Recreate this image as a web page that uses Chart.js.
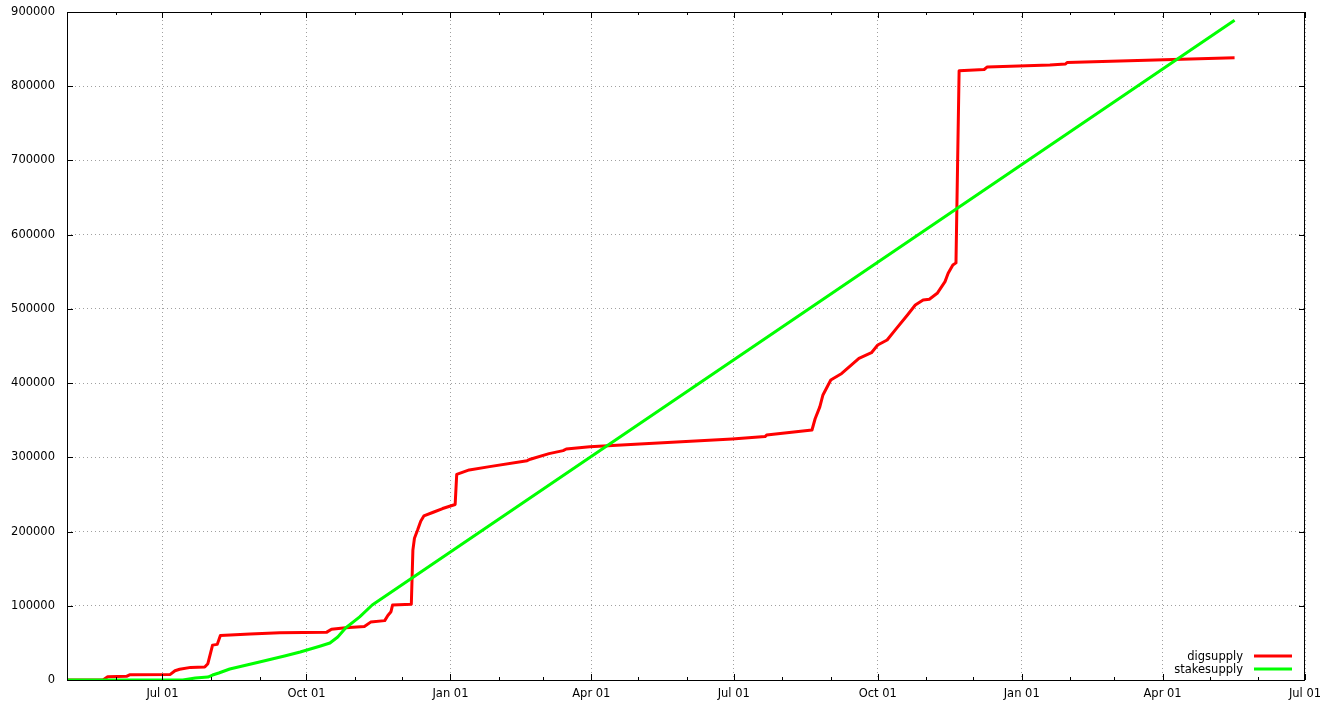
<!DOCTYPE html>
<html>
<head>
<meta charset="utf-8">
<title>digsupply / stakesupply</title>
<script src="https://cdn.jsdelivr.net/npm/chart.js@4.4.1/dist/chart.umd.min.js"></script>
<style>
  html, body { margin: 0; padding: 0; background: #fff; }
  #wrap { width: 1329px; height: 706px; }
</style>
</head>
<body>
<div id="wrap"><canvas id="supply-chart" width="1329" height="706"></canvas></div>
<script>
// Values
const digDates = ['2013-05-01', '2013-05-24', '2013-05-27', '2013-06-08', '2013-06-10', '2013-07-06', '2013-07-09',
  '2013-07-12', '2013-07-19', '2013-07-28', '2013-07-30', '2013-08-02', '2013-08-05', '2013-08-07', '2013-08-26',
  '2013-09-14', '2013-10-14', '2013-10-17', '2013-10-26', '2013-11-07', '2013-11-11', '2013-11-20', '2013-11-22',
  '2013-11-24', '2013-11-25', '2013-12-07', '2013-12-08', '2013-12-09', '2013-12-11', '2013-12-13', '2013-12-15',
  '2013-12-21', '2013-12-27', '2014-01-04', '2014-01-05', '2014-01-13', '2014-01-26', '2014-02-19', '2014-02-21',
  '2014-03-05', '2014-03-14', '2014-03-16', '2014-03-31', '2014-05-02', '2014-06-30', '2014-07-21', '2014-07-22',
  '2014-08-20', '2014-08-22', '2014-08-25', '2014-08-27', '2014-09-01', '2014-09-08', '2014-09-19', '2014-09-27',
  '2014-10-01', '2014-10-07', '2014-10-13', '2014-10-20', '2014-10-25', '2014-10-30', '2014-11-03', '2014-11-08',
  '2014-11-13', '2014-11-15', '2014-11-18', '2014-11-20', '2014-11-22', '2014-12-08', '2014-12-10', '2015-01-19',
  '2015-01-29', '2015-01-30', '2015-05-17'];
const digValues = [0, 0, 4500, 5000, 7000, 7500, 12500,
  14500, 17000, 17500, 22000, 47000, 48000, 60000, 62000,
  63500, 64500, 68500, 70500, 72000, 78000, 80000, 87000,
  92000, 101000, 102000, 175000, 191000, 202000, 214000, 221000,
  226000, 231000, 236500, 277000, 283000, 287500, 295500, 297500,
  305000, 309000, 311200, 314300, 318000, 324700, 328000, 330000,
  336800, 352000, 368000, 384000, 404200, 413000, 433400, 441000,
  451300, 458100, 473800, 491800, 505200, 512000, 513000, 521000,
  536700, 548000, 559100, 562000, 820900, 822500, 826000, 828600,
  829900, 832000, 838500];

const stakeDates = ['2013-05-01', '2013-07-14', '2013-07-22', '2013-07-30', '2013-08-02', '2013-08-06', '2013-08-13',
  '2013-09-01', '2013-09-17', '2013-09-27', '2013-10-10', '2013-10-16', '2013-10-21', '2013-10-26', '2013-11-04',
  '2013-11-12', '2015-05-17'];
const stakeValues = [0, 0, 2700, 4000, 6700, 9400, 14800,
  24200, 32300, 37700, 45800, 49800, 58000, 70000, 85000,
  101000, 889000];

const seriesNames = ['digsupply', 'stakesupply'];
const seriesColors = ['#ff0000', '#00ff00'];

const monthNames = ['Jan', 'Feb', 'Mar', 'Apr', 'May', 'Jun', 'Jul', 'Aug', 'Sep', 'Oct', 'Nov', 'Dec'];
const xStart = '2013-05-01';
const xEnd = '2015-07-01';
const yMax = 900000;
const yStep = 100000;

const FONT = { family: 'DejaVu Sans', size: 11.5 };

function toPoints(dates, values) {
  return dates.map((d, i) => ({ x: Date.parse(d), y: values[i] }));
}

function isQuarter(ms) {
  return new Date(ms).getUTCMonth() % 3 === 0;
}

// month starts between xStart and xEnd
function monthTicks() {
  const ticks = [];
  const d = new Date(Date.parse(xStart));
  const end = Date.parse(xEnd);
  while (d.getTime() <= end) {
    ticks.push({ value: d.getTime() });
    d.setUTCMonth(d.getUTCMonth() + 1);
  }
  return ticks;
}

// gnuplot-like frame with inward ticks, plus legend in lower right
const framePlugin = {
  id: 'frameAndLegend',
  afterDraw(chart) {
    const { ctx, chartArea: a, scales } = chart;
    ctx.save();
    ctx.strokeStyle = '#000';
    ctx.lineWidth = 1;
    ctx.beginPath();
    scales.x.ticks.forEach(t => {
      const px = Math.round(scales.x.getPixelForValue(t.value)) + 0.5;
      const len = isQuarter(t.value) ? 6 : 3;
      ctx.moveTo(px, a.bottom);
      ctx.lineTo(px, a.bottom - len);
      ctx.moveTo(px, a.top);
      ctx.lineTo(px, a.top + len);
    });
    scales.y.ticks.forEach(t => {
      const py = Math.round(scales.y.getPixelForValue(t.value)) + 0.5;
      ctx.moveTo(a.left, py);
      ctx.lineTo(a.left + 6, py);
      ctx.moveTo(a.right, py);
      ctx.lineTo(a.right - 6, py);
    });
    ctx.stroke();
    ctx.strokeRect(a.left + 0.5, a.top + 0.5, a.right - a.left - 1, a.bottom - a.top);

    // legend
    ctx.font = FONT.size + 'px "' + FONT.family + '"';
    ctx.textAlign = 'right';
    ctx.textBaseline = 'middle';
    chart.data.datasets.forEach((ds, i) => {
      const y = a.bottom - 24 + i * 13;
      ctx.fillStyle = '#000';
      ctx.fillText(ds.label, a.right - 62, y + 1);
      ctx.strokeStyle = ds.borderColor;
      ctx.lineWidth = 3;
      ctx.beginPath();
      ctx.moveTo(a.right - 51, y);
      ctx.lineTo(a.right - 13, y);
      ctx.stroke();
    });
    ctx.restore();
  }
};

const ctx = document.getElementById('supply-chart').getContext('2d');
new Chart(ctx, {
  type: 'line',
  data: {
    datasets: [
      {
        label: seriesNames[0],
        data: toPoints(digDates, digValues),
        borderColor: seriesColors[0],
        borderWidth: 3,
        order: 2
      },
      {
        label: seriesNames[1],
        data: toPoints(stakeDates, stakeValues),
        borderColor: seriesColors[1],
        borderWidth: 3,
        order: 1
      }
    ]
  },
  options: {
    responsive: false,
    animation: false,
    devicePixelRatio: 1,
    elements: {
      point: { radius: 0 },
      line: { tension: 0, fill: false, borderJoinStyle: 'round' }
    },
    layout: { padding: { top: 12, right: 24, left: 0, bottom: 0 } },
    plugins: {
      legend: { display: false },
      tooltip: { enabled: false }
    },
    scales: {
      x: {
        type: 'linear',
        min: Date.parse(xStart),
        max: Date.parse(xEnd),
        afterBuildTicks: scale => { scale.ticks = monthTicks(); },
        afterFit: scale => { scale.height = 26; scale.paddingLeft = 0; },
        grid: {
          drawTicks: false,
          color: c => (c.tick && isQuarter(c.tick.value)) ? '#a0a0a0' : 'rgba(0,0,0,0)',
          lineWidth: 1
        },
        border: { display: false, dash: [1, 3] },
        ticks: {
          autoSkip: false,
          maxRotation: 0,
          padding: 7,
          color: '#000',
          font: FONT,
          callback: v => isQuarter(v) ? monthNames[new Date(v).getUTCMonth()] + ' 01' : ''
        }
      },
      y: {
        min: 0,
        max: yMax,
        afterFit: scale => { scale.width = 67; scale.paddingTop = 0; scale.paddingBottom = 0; },
        grid: { drawTicks: false, color: '#a0a0a0', lineWidth: 1 },
        border: { display: false, dash: [1, 3] },
        ticks: {
          stepSize: yStep,
          padding: 12,
          color: '#000',
          font: FONT,
          callback: v => String(v)
        }
      }
    }
  },
  plugins: [framePlugin]
});
</script>
</body>
</html>
